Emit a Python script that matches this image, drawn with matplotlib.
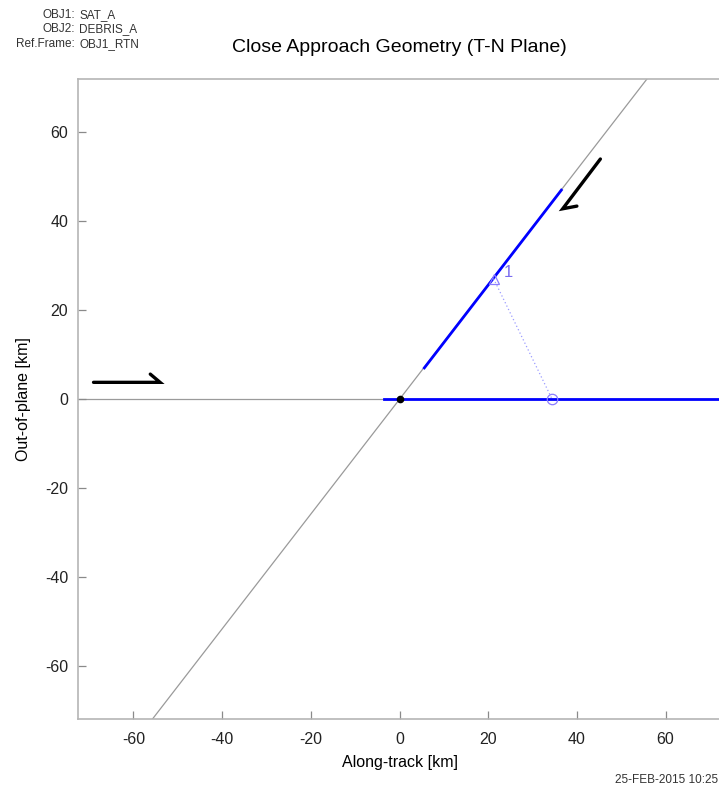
import matplotlib.pyplot as plt

plt.rcParams["font.family"] = ["Liberation Sans", "DejaVu Sans"]
plt.rcParams["axes.unicode_minus"] = False

# ── Data ─────────────────────────────────────────────────────────────────
# OBJ1 track (horizontal) and OBJ2 track (diagonal), km in T-N plane
OBJ1_TRACK_X = [-72.5, 72.5]
OBJ1_TRACK_Y = [0.0, 0.0]
OBJ2_TRACK_X = [-55.7, 55.8]
OBJ2_TRACK_Y = [-72.0, 72.0]

# highlighted (blue) parts of the tracks
OBJ1_SEG_X = [-3.6, 72.5]
OBJ1_SEG_Y = [0.0, 0.0]
OBJ2_SEG_X = [5.6, 36.5]
OBJ2_SEG_Y = [7.0, 47.0]

# close approach #1: OBJ2 position (triangle) and OBJ1 position (circle)
CA_OBJ2 = (21.2, 27.1)
CA_OBJ1 = (34.4, 0.0)
CA_LABEL = "1"

# motion direction arrows (polyline: start, tip, hook end)
ARROW1_X = [-69.0, -54.0, -56.2]
ARROW1_Y = [3.75, 3.75, 5.6]
ARROW2_X = [45.3, 36.8, 40.0]
ARROW2_Y = [54.0, 42.8, 43.4]

TICKS = [-60, -40, -20, 0, 20, 40, 60]
HEADER_KEYS = ["OBJ1:", "OBJ2:", "Ref.Frame:"]
HEADER_VALUES = ["SAT_A", "DEBRIS_A", "OBJ1_RTN"]

W, H = 719, 790
fig = plt.figure(figsize=(W / 100, H / 100), dpi=100)
ax = fig.add_axes([78 / W, 1 - 719 / H, 643 / W, 640 / H])

ax.plot(OBJ1_TRACK_X, OBJ1_TRACK_Y, color="#9a9a9a", lw=0.9, zorder=1)
ax.plot(OBJ2_TRACK_X, OBJ2_TRACK_Y, color="#9a9a9a", lw=0.9, zorder=1)
ax.plot(OBJ1_SEG_X, OBJ1_SEG_Y, color="#0000ff", lw=2.0, zorder=2)
ax.plot(OBJ2_SEG_X, OBJ2_SEG_Y, color="#0000ff", lw=2.0, zorder=2)
ax.plot([0], [0], marker="o", ms=4.5, color="black", zorder=5)

ax.plot([CA_OBJ2[0], CA_OBJ1[0]], [CA_OBJ2[1], CA_OBJ1[1]],
        color="#9b9bff", lw=0.9, ls=(0, (1, 2)), zorder=3)
ax.plot(*CA_OBJ2, marker="^", ms=7.5, mfc="none", mec="#8a7cff", mew=0.9, zorder=4)
ax.plot(*CA_OBJ1, marker="o", ms=7.5, mfc="none", mec="#8a7cff", mew=0.9, zorder=4)
ax.text(CA_OBJ2[0] + 3.3, CA_OBJ2[1] + 1.4, CA_LABEL, color="#7a6cf0",
        fontsize=12, ha="center", va="center")

for xs, ys in [(ARROW1_X, ARROW1_Y), (ARROW2_X, ARROW2_Y)]:
    ax.plot(xs, ys, color="black", lw=2.4, solid_capstyle="round",
            solid_joinstyle="miter", zorder=4)

ax.set_xlim(-72.5, 72.5)
ax.set_ylim(-72, 72)
ax.set_xticks(TICKS)
ax.set_yticks(TICKS)
ax.tick_params(direction="in", length=6, width=0.9, color="#8a8a8a",
               labelsize=11.5, labelcolor="#222222")
ax.tick_params(axis="x", pad=9)
ax.tick_params(axis="y", pad=7)
for sp in ax.spines.values():
    sp.set_color("#b5b5b5")
    sp.set_linewidth(1.2)
ax.spines["right"].set_visible(False)

ax.set_xlabel("Along-track [km]", fontsize=11.5, labelpad=6)
ax.set_ylabel("Out-of-plane [km]", fontsize=11.5, labelpad=10)

fig.text(399 / W, 1 - 47 / H, "Close Approach Geometry (T-N Plane)",
         fontsize=14, ha="center", va="center")
for i, (k, v) in enumerate(zip(HEADER_KEYS, HEADER_VALUES)):
    y = 1 - (15 + 14.5 * i) / H
    fig.text(75 / W, y, k, fontsize=8.5, ha="right", va="center", color="#333333")
    fig.text(79 / W, y, v, fontsize=8.5, ha="left", va="center", color="#333333")
fig.text(615 / W, 1 - 780 / H, "25-FEB-2015 10:25", fontsize=8.5,
         ha="left", va="center", color="#333333")

fig.savefig("out.png", dpi=100)
